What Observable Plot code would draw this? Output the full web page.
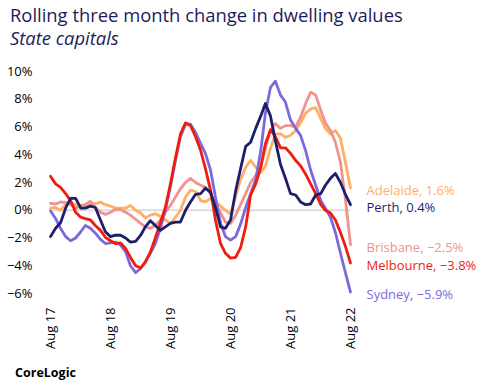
<!DOCTYPE html>
<html>
<head>
<meta charset="utf-8">
<script src="https://cdn.jsdelivr.net/npm/d3@7"></script>
<script src="https://cdn.jsdelivr.net/npm/@observablehq/plot@0.6"></script>
<style>
  html, body { margin: 0; padding: 0; background: #fff; }
  #wrap { position: relative; width: 496px; height: 386px; overflow: hidden; font-family: "Open Sans", sans-serif; }
  #title { position: absolute; left: 10px; top: 4px; font-size: 18.4px; color: #1c1c5c; line-height: 21px; white-space: nowrap; }
  #subtitle { position: absolute; left: 10px; top: 27px; font-size: 18.4px; font-style: italic; color: #1c1c5c; line-height: 21px; }
  #chart { position: absolute; left: 0; top: 55px; }
  #caption { position: absolute; left: 15px; top: 364px; font-family: "Open Sans", sans-serif; font-weight: bold; font-size: 12.5px; color: #000; }
</style>
</head>
<body>
<div id="wrap">
  <div id="title">Rolling three month change in dwelling values</div>
  <div id="subtitle">State capitals</div>
  <div id="chart"></div>
  <div id="caption">CoreLogic</div>
</div>
<script>
// Monthly observations, Aug 2017 .. Aug 2022 (61 months)
const months = d3.utcMonth.range(new Date(Date.UTC(2017, 7, 1)), new Date(Date.UTC(2022, 8, 1)));

const cities = ["Adelaide", "Brisbane", "Sydney", "Melbourne", "Perth"];
const cityColors = ["#ffae66", "#f0938c", "#7d69dc", "#ee1d0e", "#1e1f6b"];
const endLabels = {
  Adelaide: "Adelaide, 1.6%",
  Perth: "Perth, 0.4%",
  Brisbane: "Brisbane, \u22122.5%",
  Melbourne: "Melbourne, \u22123.8%",
  Sydney: "Sydney, \u22125.9%"
};

const adelaide = [0.15,0.2,0.0,0.4,0.55,0.4,0.2,0.2,0.5,0.45,0.6,0.4,0.3,0.15,0.15,0.15,0.35,0.0,-0.2,-0.55,-0.35,-0.25,-0.45,-0.7,-0.95,-0.5,0.0,0.95,1.45,1.35,0.7,0.6,0.85,0.6,0.3,0.0,-0.3,1.0,2.2,3.1,3.6,3.1,2.7,3.2,4.45,5.5,5.5,5.25,5.4,5.75,6.3,7.0,7.3,7.4,6.6,5.9,5.5,5.75,5.2,3.45,1.6];
const perth = [-1.9,-1.3,-0.9,0.15,0.85,0.85,0.15,0.15,0.3,0.2,-0.7,-1.55,-1.9,-1.8,-1.8,-2.0,-2.3,-2.25,-1.8,-1.2,-0.75,-1.1,-1.45,-1.2,-0.95,-0.85,-0.85,0.0,0.6,1.15,1.2,1.6,1.3,0.2,-1.2,-1.3,-0.7,1.4,3.0,4.6,4.9,5.9,6.8,7.7,6.8,5.0,3.3,2.3,1.2,1.1,0.6,0.4,0.45,1.1,1.2,1.8,2.3,2.65,2.0,1.15,0.4];
const brisbane = [0.5,0.45,0.6,0.55,0.4,0.15,0.35,0.4,0.65,0.2,-0.15,-0.3,-0.15,0.05,0.05,-0.15,-0.35,-0.65,-0.95,-1.2,-1.3,-1.1,-0.7,-0.15,0.35,0.95,1.55,2.0,2.3,2.0,1.8,1.65,1.2,0.5,-0.2,-0.85,-0.95,-0.35,0.4,1.2,2.0,2.5,3.2,4.45,5.75,6.25,5.9,6.1,6.1,6.0,6.7,7.7,8.5,8.3,7.2,6.3,5.75,4.9,3.45,0.8,-2.5];
const melbourne = [2.45,1.9,1.65,1.2,0.7,-0.15,-0.5,-0.6,-0.7,-1.1,-1.45,-1.95,-2.2,-2.4,-2.35,-2.75,-3.4,-4.0,-4.15,-3.75,-3.0,-2.0,-0.9,0.2,1.9,3.8,5.5,6.3,6.1,5.3,4.3,3.0,1.45,-0.7,-2.4,-3.1,-3.45,-3.4,-2.7,-1.2,1.1,1.9,3.1,4.8,5.8,5.3,4.5,4.5,4.1,3.6,3.2,2.6,1.9,1.2,0.4,0.0,-0.2,-0.7,-1.6,-2.6,-3.8];
const sydney = [-0.05,-0.6,-1.3,-1.9,-2.2,-2.0,-1.55,-1.1,-1.3,-1.65,-2.1,-2.4,-2.35,-2.3,-2.5,-3.0,-4.0,-4.5,-4.2,-3.7,-3.1,-2.4,-1.3,0.0,1.7,3.6,5.3,6.2,6.2,5.6,4.8,4.1,2.9,0.95,-0.95,-1.9,-2.15,-1.9,-1.0,0.2,1.2,2.2,4.3,7.0,8.85,9.3,8.3,7.8,6.5,5.9,5.4,4.3,2.9,1.8,0.7,0.15,-0.5,-1.6,-3.1,-4.5,-5.9];

const yTicks = [-6, -4, -2, 0, 2, 4, 6, 8, 10];
const xTicks = d3.utcYear.range(new Date(Date.UTC(2017, 0, 1)), new Date(Date.UTC(2023, 0, 1))).map(d => new Date(Date.UTC(d.getUTCFullYear(), 7, 1)));

const seriesByCity = {Adelaide: adelaide, Perth: perth, Brisbane: brisbane, Melbourne: melbourne, Sydney: sydney};
const rows = cities.flatMap(city => seriesByCity[city].map((v, i) => ({city, date: months[i], value: v})));
const lastRows = cities.map(city => ({city, date: months[months.length - 1], value: seriesByCity[city][seriesByCity[city].length - 1], label: endLabels[city]}));

const chart = Plot.plot({
  width: 496,
  height: 310,
  marginTop: 16,
  marginBottom: 72,
  marginLeft: 50,
  marginRight: 146,
  style: {fontFamily: "Open Sans, sans-serif", fontSize: "13px", background: "transparent", overflow: "visible"},
  x: {type: "utc", domain: [months[0], months[months.length - 1]], ticks: xTicks, tickFormat: d3.utcFormat("Aug %y"), tickRotate: -90, tickSize: 0, tickPadding: 14, label: null},
  y: {domain: [-6, 10], ticks: yTicks, tickFormat: d => (d < 0 ? "\u2212" : "") + Math.abs(d) + "%", tickSize: 0, tickPadding: 18, label: null},
  color: {domain: cities, range: cityColors},
  marks: [
    Plot.ruleY([0], {stroke: "#dddddd", strokeWidth: 2, x1: months[0], x2: months[months.length - 1]}),
    Plot.line(rows, {x: "date", y: "value", z: "city", stroke: "city", strokeWidth: 2.8, strokeLinejoin: "round"}),
    Plot.text(lastRows, {x: "date", y: "value", text: "label", fill: "city", textAnchor: "start", dx: 16, dy: 3, fontSize: 13})
  ]
});
document.getElementById("chart").appendChild(chart);
</script>
</body>
</html>
